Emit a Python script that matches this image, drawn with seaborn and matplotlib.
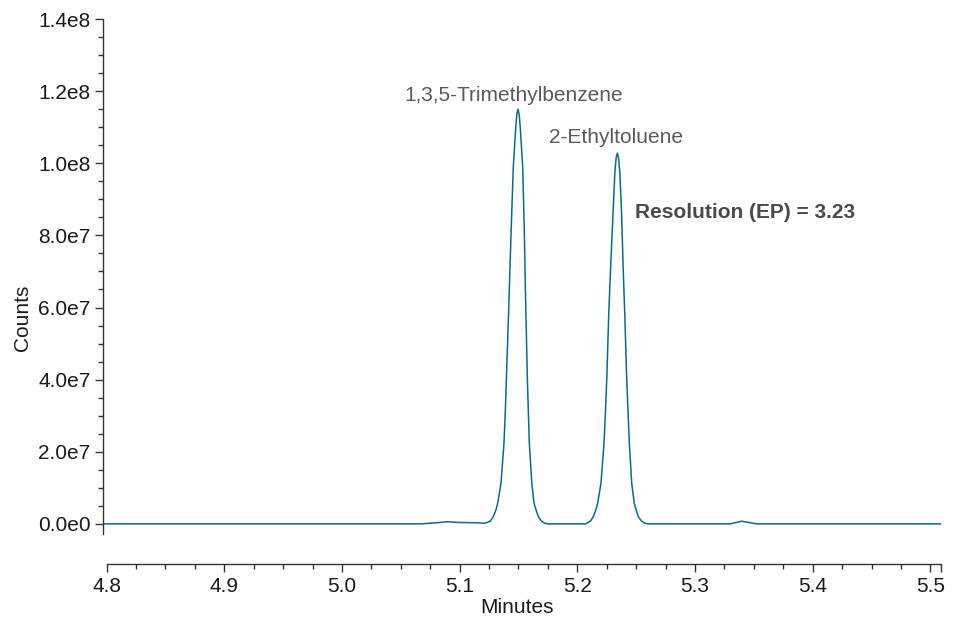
import numpy as np
import pandas as pd
import seaborn as sns
from matplotlib import pyplot as plt
from matplotlib.ticker import MultipleLocator

# chromatogram trace (minutes, counts)
minutes = [4.797, 4.950, 5.066, 5.080, 5.090, 5.100, 5.115, 5.121,
           5.1235, 5.1262, 5.1286, 5.1310, 5.1324, 5.1352, 5.1377, 5.1388,
           5.1398, 5.1416, 5.1437, 5.1456, 5.1477, 5.1486, 5.1496, 5.1506,
           5.1515, 5.1536, 5.1550, 5.1560, 5.1575, 5.1584, 5.1592, 5.1613,
           5.1632, 5.1650, 5.1669, 5.1695, 5.1720, 5.1750,
           5.190, 5.2070, 5.2112, 5.2136, 5.2157, 5.2173, 5.2201, 5.2227,
           5.2239, 5.2251, 5.2267, 5.2283, 5.2306, 5.2320, 5.2330, 5.2340,
           5.2350, 5.2360, 5.2374, 5.2391, 5.2403, 5.2419, 5.2431, 5.2442,
           5.2462, 5.2484, 5.2500, 5.2518, 5.2545, 5.2570, 5.2600,
           5.300, 5.330, 5.3355, 5.3397, 5.345, 5.3524, 5.420, 5.509]
counts = [0, 0, 0, 3.0e5, 6.0e5, 4.0e5, 3.0e5, 2.0e5,
          4.0e5, 8.0e5, 2.0e6, 4.0e6, 5.8e6, 1.14e7, 2.25e7, 3.1e7,
          4.08e7, 5.85e7, 8.07e7, 9.90e7, 1.10e8, 1.135e8, 1.150e8, 1.135e8,
          1.10e8, 9.90e7, 8.07e7, 6.3e7, 4.08e7, 3.1e7, 2.25e7, 1.14e7,
          5.8e6, 3.8e6, 2.0e6, 8.0e5, 2.5e5, 0,
          0, 0, 8.0e5, 2.0e6, 3.8e6, 5.7e6, 1.13e7, 2.24e7,
          3.1e7, 4.08e7, 5.84e7, 7.1e7, 8.80e7, 9.80e7, 1.015e8, 1.028e8,
          1.015e8, 9.80e7, 8.80e7, 6.95e7, 5.84e7, 4.08e7, 3.1e7, 2.24e7,
          1.13e7, 5.7e6, 3.8e6, 2.0e6, 8.0e5, 2.5e5, 0,
          0, 0, 4.5e5, 7.4e5, 4.5e5, 0, 0, 0]

x_ticks = [4.8, 4.9, 5.0, 5.1, 5.2, 5.3, 5.4, 5.5]
y_ticks = [0, 2e7, 4e7, 6e7, 8e7, 1.0e8, 1.2e8, 1.4e8]
y_tick_labels = ["0.0e0", "2.0e7", "4.0e7", "6.0e7", "8.0e7", "1.0e8", "1.2e8", "1.4e8"]

peak_names = ["1,3,5-Trimethylbenzene", "2-Ethyltoluene"]
resolution_text = "Resolution (EP) = 3.23"

sns.set_style("ticks")
plt.rcParams['font.family'] = ['Liberation Sans', 'DejaVu Sans']

fig = plt.figure(figsize=(9.54, 6.18), dpi=100)
ax = fig.add_axes([0.10797, 0.13592, 0.87841, 0.83333])

df = pd.DataFrame({"Minutes": minutes, "Counts": counts})
sns.lineplot(data=df, x="Minutes", y="Counts", ax=ax,
             color="#0b6a86", linewidth=1.1)

x_end = 5.509
ax.set_xlim(4.797, x_end)
ax.set_ylim(-2.8e6, 1.4e8)

ax.set_xticks(x_ticks + [x_end])
ax.set_xticklabels([f"{v:.1f}" for v in x_ticks] + [""])
ax.set_yticks(y_ticks)
ax.set_yticklabels(y_tick_labels)
ax.xaxis.set_minor_locator(MultipleLocator(0.025))
ax.yaxis.set_minor_locator(MultipleLocator(5e6))

for side in ["top", "right"]:
    ax.spines[side].set_visible(False)
ax.spines["bottom"].set_position(("outward", 21.6))
ax.spines["bottom"].set_bounds(4.8, x_end)
for side in ["left", "bottom"]:
    ax.spines[side].set_color("#333333")
    ax.spines[side].set_linewidth(1.0)

ax.tick_params(which="major", length=6, width=1, color="#333333",
               labelsize=15, labelcolor="#1a1a1a", pad=3)
ax.tick_params(which="minor", length=3.5, width=1, color="#333333")

ax.set_xlabel("Minutes", fontsize=15, color="#1a1a1a")
ax.set_ylabel("Counts", fontsize=15, color="#1a1a1a")
ax.xaxis.set_label_coords(0.494, -0.124)
ax.yaxis.set_label_coords(-0.085, 0.42)

ax.text(5.1457, 1.173e8, peak_names[0], ha="center", va="baseline",
        fontsize=15, color="#5a5a5a")
ax.text(5.2327, 1.0557e8, peak_names[1], ha="center", va="baseline",
        fontsize=15, color="#5a5a5a")
ax.text(5.2490, 8.477e7, resolution_text, ha="left", va="baseline",
        fontsize=15, fontweight="bold", color="#4a4a4a")

fig.savefig("out.png", dpi=100)
